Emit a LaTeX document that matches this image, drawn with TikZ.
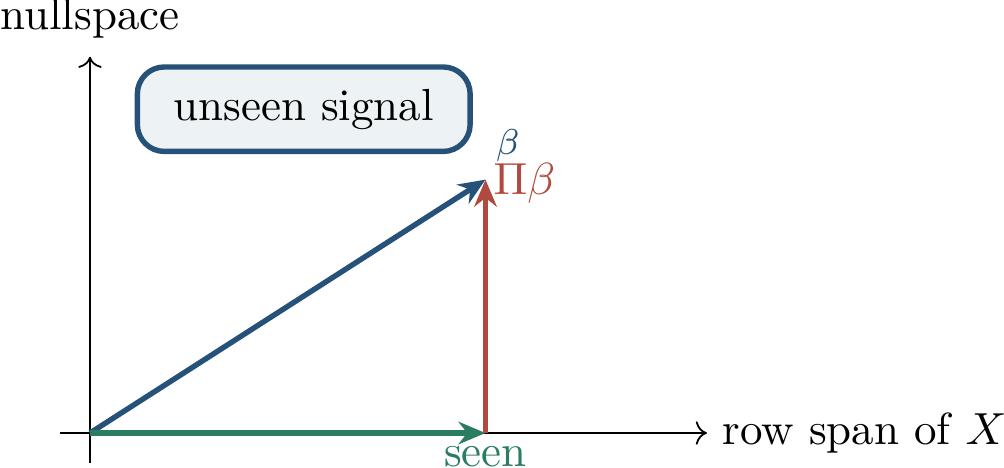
\documentclass[tikz,border=0pt]{standalone}
\usetikzlibrary{positioning,arrows.meta}
\usepackage{xcolor}
\definecolor{signalblue}{HTML}{26527A}
\definecolor{projred}{HTML}{B04A3E}
\definecolor{seengreen}{HTML}{2A7D5F}
\definecolor{softgrey}{HTML}{EDF2F5}

\begin{document}
\begin{tikzpicture}[node distance=0pt]
\tikzstyle{axis}=[->,black]
\tikzstyle{vec}=[-{Stealth[length=6pt,width=5pt]},very thick]
\tikzstyle{signalbox}=[rounded corners=6pt,draw=signalblue,very thick,fill=softgrey,minimum width=2.6cm,minimum height=0.66cm]
\useasboundingbox (-0.703,-0.266) rectangle (7.141,3.383);
% axes
\coordinate (O) at (0,0);
\coordinate (xlo) at (-0.234,0);
\coordinate (xhi) at (4.82,0);
\coordinate (ylo) at (0,-0.234);
\coordinate (yhi) at (0,2.94);
\draw[axis] (xlo) -- (xhi);
\draw[axis] (ylo) -- (yhi);
\node[right=0pt of xhi] (rowlabel) {row span of $X$};
\node[above=0.02cm of yhi] (nulllabel) {nullspace};
% vectors
\coordinate (B) at (3.09,1.98);
\coordinate (P) at (3.09,0);
\draw[vec,signalblue] (O) -- (B);
\draw[vec,seengreen] (O) -- (P);
\draw[vec,projred] (P) -- (B);
\node[right=-0.06cm of B,yshift=-0.03cm,text=projred] (pibeta) {$\Pi\beta$};
\node[above right=0.1cm and 0.04cm of B,inner sep=1pt,text=signalblue,font=\footnotesize] (betalabel) {$\beta$};
\node[below=0.06cm of P,inner sep=1pt,text=seengreen] (seenlabel) {seen};
\node[signalbox] (unseen) at (1.67,2.53) {unseen signal};
\end{tikzpicture}
\end{document}
